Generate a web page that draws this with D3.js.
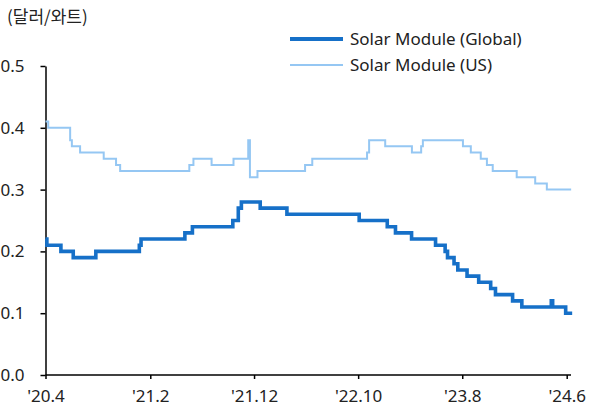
<!DOCTYPE html>
<html><head><meta charset="utf-8">
<script src="https://cdn.jsdelivr.net/npm/d3@7/dist/d3.min.js"></script>
<style>
html,body{margin:0;padding:0;background:#fff;}
svg{display:block;}
text{font-family:"Noto Sans",sans-serif;fill:#222;}
</style></head>
<body>
<script>
// ---- data (step-change dates and values) ----
const globalDates = ["2020-04-01","2020-04-05","2020-05-16","2020-06-21","2020-08-26","2020-12-31","2021-01-05","2021-05-13","2021-06-04","2021-09-30","2021-10-16","2021-10-25","2021-12-19","2022-03-07","2022-10-04","2022-12-25","2023-01-18","2023-03-06","2023-05-15","2023-06-12","2023-06-19","2023-07-08","2023-07-19","2023-08-15","2023-09-18","2023-10-23","2023-11-06","2023-12-26","2024-01-22","2024-04-17","2024-04-21","2024-05-29","2024-06-17"];
const globalValues = [0.22,0.21,0.20,0.19,0.20,0.21,0.22,0.23,0.24,0.25,0.27,0.28,0.27,0.26,0.25,0.24,0.23,0.22,0.21,0.20,0.19,0.18,0.17,0.16,0.15,0.14,0.13,0.12,0.11,0.12,0.11,0.10,0.10];
const usDates = ["2020-04-01","2020-04-09","2020-06-12","2020-06-17","2020-07-11","2020-09-18","2020-10-24","2020-11-05","2021-05-26","2021-06-07","2021-07-30","2021-10-02","2021-11-14","2021-11-19","2021-12-11","2022-04-29","2022-05-20","2022-10-27","2022-11-02","2022-12-19","2023-03-07","2023-04-03","2023-04-08","2023-08-03","2023-08-26","2023-09-24","2023-10-12","2023-10-29","2024-01-07","2024-03-01","2024-04-04","2024-06-14"];
const usValues = [0.41,0.40,0.38,0.37,0.36,0.35,0.34,0.33,0.34,0.35,0.34,0.35,0.38,0.32,0.33,0.34,0.35,0.36,0.38,0.37,0.36,0.37,0.38,0.37,0.36,0.35,0.34,0.33,0.32,0.31,0.30,0.30];
const xTickDates = ["2020-04-01","2021-02-01","2021-12-01","2022-10-01","2023-08-01","2024-06-01"];
const xTickLabels = ["'20.4","'21.2","'21.12","'22.10","'23.8","'24.6"];
const yTicks = [0,0.1,0.2,0.3,0.4,0.5];
const seriesNames = ["Solar Module (Global)","Solar Module (US)"];
const unitLabel = "(달러/와트)";

const W=603,H=407;
const colGlobal="#1670C8", colUS="#95C7F3";
const parse=d3.utcParse("%Y-%m-%d");
const svg=d3.select("body").append("svg").attr("width",W).attr("height",H);

const x=d3.scaleUtc().domain([parse("2020-04-01"),parse("2024-06-01")]).range([45.5,566.7]);
const y=d3.scaleLinear().domain([0,0.5]).range([375,66]);

// unit label
svg.append("text").attr("x",7).attr("y",23).style("font-family","'Noto Sans CJK KR',sans-serif")
  .style("font-size","17px").text(unitLabel);

// y axis
const ya=svg.append("g").attr("transform","translate(45.5,0)")
  .call(d3.axisLeft(y).tickValues(yTicks).tickFormat(d3.format(".1f")).tickSize(5).tickSizeOuter(0).tickPadding(16));
ya.select(".domain").attr("stroke","#000").attr("stroke-width",1.5);
ya.selectAll(".tick line").attr("stroke","#000").attr("stroke-width",1.5);
ya.selectAll(".tick text").style("font-size","17px").style("font-family","'Noto Sans',sans-serif").attr("fill","#222");

// x axis
const xa=svg.append("g").attr("transform","translate(0,375)")
  .call(d3.axisBottom(x).tickValues(xTickDates.map(parse)).tickFormat((d,i)=>xTickLabels[i]).tickSize(4).tickSizeOuter(0).tickPadding(11));
xa.select(".domain").remove();
xa.append("line").attr("x1",45.5).attr("x2",571).attr("y1",0).attr("y2",0).attr("stroke","#000").attr("stroke-width",1.5);
xa.selectAll(".tick line").attr("stroke","#000").attr("stroke-width",1.5);
xa.selectAll(".tick text").style("font-size","17px").style("font-family","'Noto Sans',sans-serif").attr("fill","#222");

const line=d3.line().x(d=>x(d[0])).y(d=>y(d[1])).curve(d3.curveStepAfter);
const gData=globalDates.map((d,i)=>[parse(d),globalValues[i]]);
const uData=usDates.map((d,i)=>[parse(d),usValues[i]]);

svg.append("path").datum(uData).attr("d",line).attr("fill","none").attr("stroke",colUS).attr("stroke-width",2);
svg.append("path").datum(gData).attr("d",line).attr("fill","none").attr("stroke",colGlobal).attr("stroke-width",3.6);

// legend
const leg=[{n:seriesNames[0],c:colGlobal,w:4,y:39},{n:seriesNames[1],c:colUS,w:2,y:65}];
leg.forEach(l=>{
  svg.append("line").attr("x1",290).attr("x2",343).attr("y1",l.y).attr("y2",l.y).attr("stroke",l.c).attr("stroke-width",l.w);
  svg.append("text").attr("x",350).attr("y",l.y).attr("dy","0.35em").style("font-size","17px").text(l.n);
});
</script>
</body></html>
